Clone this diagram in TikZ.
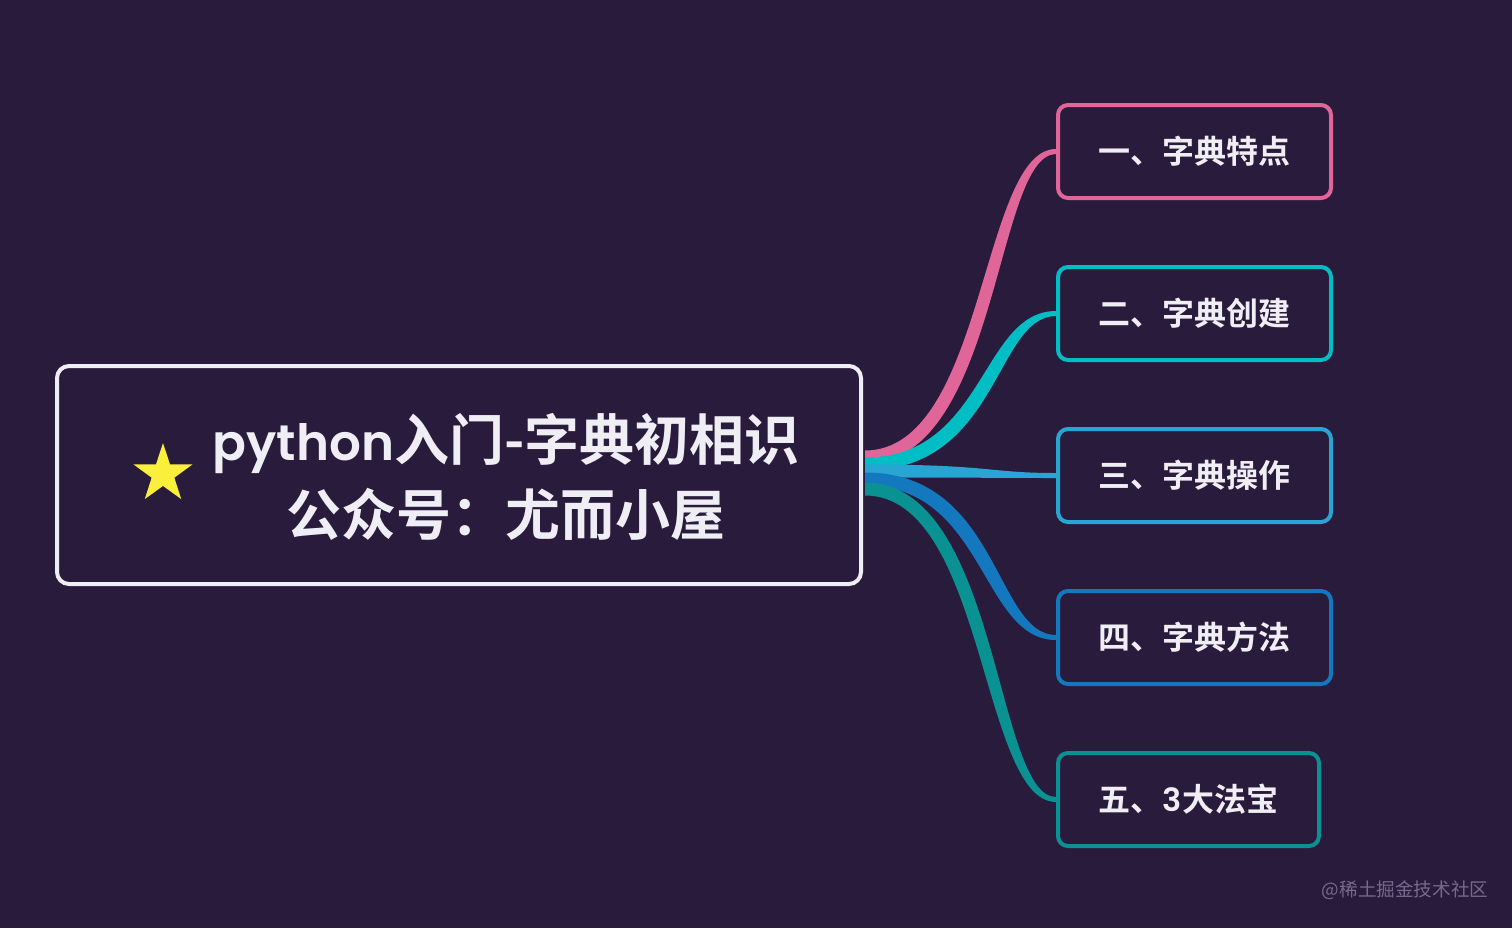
\documentclass[tikz,border=0pt]{standalone}
\usepackage{fontspec}
\usetikzlibrary{shapes.geometric,calc}

\newfontfamily\cjk{Noto Sans CJK SC}[BoldFont={Noto Sans CJK SC Bold}]
\newfontfamily\lat{Poppins}[BoldFont={Poppins SemiBold}]

\definecolor{bgc}{RGB}{41,27,60}
\definecolor{boxline}{RGB}{240,238,245}
\definecolor{staryellow}{RGB}{250,240,60}
\definecolor{pinkc}{RGB}{224,102,153}
\definecolor{tealc}{RGB}{0,190,195}
\definecolor{skyc}{RGB}{40,165,210}
\definecolor{bluec}{RGB}{20,120,190}
\definecolor{greenc}{RGB}{10,145,145}
\definecolor{markgrey}{RGB}{118,106,140}

\tikzset{
  leaf/.style={draw=#1, line width=2pt, rounded corners=5pt,
    minimum width=136.5pt, minimum height=46.5pt, text=boxline,
    font=\cjk\bfseries\fontsize{16}{16}\selectfont},
}

\begin{document}
\begin{tikzpicture}[x=0.5pt,y=-0.5pt]
    \def\rw{6.5}
    \def\ew{2.5}
    \def\bend{7}

    \fill[bgc] (0,0) rectangle (1512,928);

    \node[draw=boxline, line width=2pt, rounded corners=6pt,
      minimum width=402pt, minimum height=109pt] (main) at (459,475) {};
    \node[star, star points=5, star point ratio=2.6, fill=staryellow,
      minimum size=31pt, inner sep=0pt] (star) at (163,474) {};
    \node[align=center, text=boxline, font=\cjk\bfseries\fontsize{27.5}{37.5}\selectfont]
      (title) at (506,477) {{\lat\fontsize{25}{37.5}\selectfont python}入门-字典初相识\\公众号：尤而小屋};

    \node[leaf=pinkc] (b1) at (1194.5,151.5) {一、字典特点};
    \node[leaf=tealc] (b2) at (1194.5,313.5) {二、字典创建};
    \node[leaf=skyc] (b3) at (1194.5,475.5) {三、字典操作};
    \node[leaf=bluec] (b4) at (1194.5,637.5) {四、字典方法};
    \node[leaf=greenc, minimum width=130.5pt] (b5) at (1188.5,799.5) {五、{\lat 3}大法宝};

    % tapered branches, s = side the upper edge leans to
    \foreach \dy/\s/\b/\c in {9/-1/b1/pinkc, 5.5/-1/b2/tealc, 2/0/b3/skyc, -2/1/b4/bluec, -7/1/b5/greenc}{
      \coordinate (root) at ([xshift=1pt,yshift=\dy pt]main.east);
      \fill[\c] ($(root)+(0,-\rw)$) .. controls +(127+\s*\bend,0) and +(-68+\s*\bend,0) .. ($(\b.west)+(0,-\ew)$)
        -- ($(\b.west)+(0,\ew)$) .. controls +(-68-\s*\bend,0) and +(127-\s*\bend,0) .. ($(root)+(0,\rw)$) -- cycle;
    }

    \node[text=markgrey, font=\cjk\fontsize{9.3}{10}\selectfont] (mark) at (1405,890) {@稀土掘金技术社区};
  \end{tikzpicture}
\end{document}
